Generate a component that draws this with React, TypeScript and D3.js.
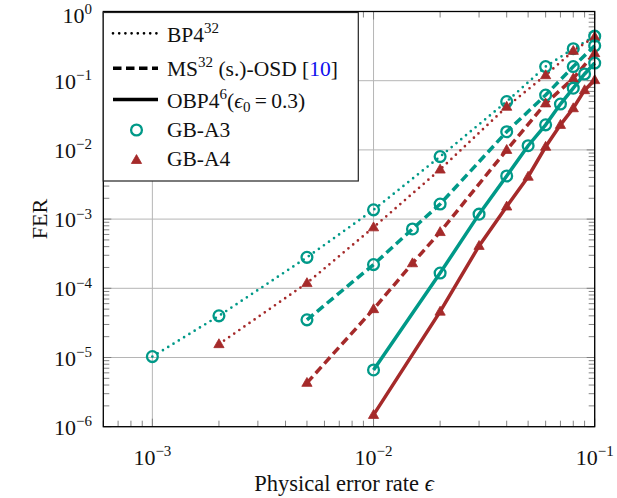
import React from "react";
import * as d3 from "d3";

const a3BpX = [0.001, 0.002, 0.005, 0.01, 0.02, 0.04, 0.06, 0.08, 0.1];
const a3BpY = [1.03e-5, 4.0e-5, 2.8e-4, 1.36e-3, 8.0e-3, 0.05, 0.16, 0.29, 0.44];
const a4BpX = [0.002, 0.005, 0.01, 0.02, 0.04, 0.06, 0.08, 0.1];
const a4BpY = [1.56e-5, 1.19e-4, 7.6e-4, 5.2e-3, 0.042, 0.12, 0.27, 0.43];
const a3MsX = [0.005, 0.01, 0.015, 0.02, 0.04, 0.06, 0.08, 0.1];
const a3MsY = [3.5e-5, 2.2e-4, 7.2e-4, 1.65e-3, 0.0183, 0.062, 0.16, 0.32];
const a4MsX = [0.005, 0.01, 0.015, 0.02, 0.04, 0.06, 0.08, 0.1];
const a4MsY = [4.3e-6, 5.0e-5, 2.3e-4, 6.5e-4, 0.01, 0.047, 0.108, 0.25];
const a3ObpX = [0.01, 0.02, 0.03, 0.04, 0.05, 0.06, 0.07, 0.08, 0.09, 0.1];
const a3ObpY = [6.6e-6, 1.66e-4, 1.18e-3, 4.2e-3, 0.0115, 0.023, 0.046, 0.078, 0.125, 0.18];
const a4ObpX = [0.01, 0.02, 0.03, 0.04, 0.05, 0.06, 0.07, 0.08, 0.09, 0.1];
const a4ObpY = [1.48e-6, 4.6e-5, 4.1e-4, 1.52e-3, 4.1e-3, 0.0111, 0.023, 0.04, 0.073, 0.102];

const xMajor = [1e-3, 1e-2, 1e-1];
const xMajorExp = ["−3", "−2", "−1"];
const yMajor = [1, 1e-1, 1e-2, 1e-3, 1e-4, 1e-5, 1e-6];
const yMajorExp = ["0", "−1", "−2", "−3", "−4", "−5", "−6"];

const TEAL = "#009988";
const RED = "#a52a2a";
const FONT = "'Liberation Serif', 'DejaVu Serif', serif";

const L = 103.3, R = 594.7, T = 11.5, B = 426.7;

export default function App() {
  const x = d3.scaleLog().domain([6e-4, 0.1]).range([L, R]);
  const y = d3.scaleLog().domain([1e-6, 1]).range([B, T]);

  const xMinor: number[] = [];
  for (const dec of [1e-4, 1e-3, 1e-2]) {
    for (let k = 2; k <= 9; k++) {
      const v = dec * k;
      if (v > 6e-4 && v < 0.1) xMinor.push(v);
    }
  }
  const yMinor: number[] = [];
  for (const dec of [1e-6, 1e-5, 1e-4, 1e-3, 1e-2, 1e-1]) {
    for (let k = 2; k <= 9; k++) yMinor.push(dec * k);
  }

  const line = d3
    .line<[number, number]>()
    .x((d) => x(d[0]))
    .y((d) => y(d[1]));

  const series = [
    { xs: a3BpX, ys: a3BpY, color: TEAL, style: "dot", marker: "circle" },
    { xs: a4BpX, ys: a4BpY, color: RED, style: "dot", marker: "tri" },
    { xs: a3MsX, ys: a3MsY, color: TEAL, style: "dash", marker: "circle" },
    { xs: a4MsX, ys: a4MsY, color: RED, style: "dash", marker: "tri" },
    { xs: a3ObpX, ys: a3ObpY, color: TEAL, style: "solid", marker: "circle" },
    { xs: a4ObpX, ys: a4ObpY, color: RED, style: "solid", marker: "tri" },
  ];

  const lineProps = (style: string) => {
    if (style === "dot") return { strokeWidth: 2.7, strokeDasharray: "0 6.2", strokeLinecap: "round" as const };
    if (style === "dash") return { strokeWidth: 3.5, strokeDasharray: "8.5 4.5", strokeLinecap: "butt" as const };
    return { strokeWidth: 3.5 };
  };

  const marker = (kind: string, cx: number, cy: number, color: string, key: string) => {
    if (kind === "circle")
      return <circle key={key} cx={cx} cy={cy} r={5.4} fill="none" stroke={color} strokeWidth={2.3} />;
    const s = 5.4;
    const pts = `${cx},${cy - s} ${cx - s * 0.95},${cy + s * 0.65} ${cx + s * 0.95},${cy + s * 0.65}`;
    return <polygon key={key} points={pts} fill={color} stroke={color} strokeWidth={0.8} strokeLinejoin="miter" />;
  };

  const lineRows = [33.3, 68.3, 99.5];
  const textBase = [41.5, 75.5, 108, 137, 166];
  const lx0 = 113, lx1 = 158, tx = 167;

  return (
    <svg width={617} height={498} style={{ position: "absolute", left: 0, top: 0, background: "#fff" }} fontFamily={FONT}>
      <rect x={0} y={0} width={617} height={498} fill="#fff" />
      {/* grid */}
      <g stroke="#b5b5b5" strokeWidth={1}>
        {xMajor.map((v) => (
          <line key={"gx" + v} x1={x(v)} x2={x(v)} y1={T} y2={B} />
        ))}
        {yMajor.map((v) => (
          <line key={"gy" + v} x1={L} x2={R} y1={y(v)} y2={y(v)} />
        ))}
      </g>
      {/* ticks */}
      <g stroke="#777" strokeWidth={0.9}>
        {xMinor.map((v) => (
          <g key={"xm" + v}>
            <line x1={x(v)} x2={x(v)} y1={B} y2={B - 6} />
            <line x1={x(v)} x2={x(v)} y1={T} y2={T + 6} />
          </g>
        ))}
        {yMinor.map((v) => (
          <g key={"ym" + v}>
            <line x1={L} x2={L + 6} y1={y(v)} y2={y(v)} />
            <line x1={R} x2={R - 6} y1={y(v)} y2={y(v)} />
          </g>
        ))}
        {xMajor.map((v) => (
          <g key={"xM" + v}>
            <line x1={x(v)} x2={x(v)} y1={B} y2={B - 8} />
            <line x1={x(v)} x2={x(v)} y1={T} y2={T + 8} />
          </g>
        ))}
        {yMajor.map((v) => (
          <g key={"yM" + v}>
            <line x1={L} x2={L + 8} y1={y(v)} y2={y(v)} />
            <line x1={R} x2={R - 8} y1={y(v)} y2={y(v)} />
          </g>
        ))}
      </g>
      {/* series */}
      <g fill="none">
        {series.map((s, i) => (
          <path
            key={"l" + i}
            d={line(s.xs.map((v, j) => [v, s.ys[j]] as [number, number])) || ""}
            stroke={s.color}
            {...lineProps(s.style)}
          />
        ))}
      </g>
      <g>
        {series.map((s, i) =>
          s.xs.map((v, j) => marker(s.marker, x(v), y(s.ys[j]), s.color, `m${i}-${j}`))
        )}
      </g>
      {/* axis box */}
      <rect x={L} y={T} width={R - L} height={B - T} fill="none" stroke="#000" strokeWidth={1.3} />
      {/* x tick labels */}
      {xMajor.map((v, i) => (
        <text key={"xl" + v} x={x(v)} y={465} textAnchor="middle" fontSize={22} fill="#111">
          <tspan>10</tspan>
          <tspan dy={-9} fontSize={15}>{xMajorExp[i]}</tspan>
        </text>
      ))}
      {/* y tick labels */}
      {yMajor.map((v, i) => (
        <text key={"yl" + v} x={92} y={Math.max(y(v) + 8, 22.5)} textAnchor="end" fontSize={22} fill="#111">
          <tspan>10</tspan>
          <tspan dy={-8.5} fontSize={15}>{yMajorExp[i]}</tspan>
        </text>
      ))}
      {/* axis labels */}
      <text x={344} y={491} textAnchor="middle" fontSize={22.5} fill="#111">
        Physical error rate <tspan fontStyle="italic">ϵ</tspan>
      </text>
      <text transform={`translate(47, ${(T + B) / 2}) rotate(-90)`} textAnchor="middle" fontSize={22} fill="#111">
        FER
      </text>
      {/* legend */}
      <rect x={L} y={T + 1} width={358.3 - L} height={181 - T - 1} fill="#fff" stroke="#222" strokeWidth={1.2} />
      <line x1={lx0} x2={lx1} y1={lineRows[0]} y2={lineRows[0]} stroke="#000" fill="none" {...lineProps("dot")} />
      <line x1={lx0} x2={lx1} y1={lineRows[1]} y2={lineRows[1]} stroke="#000" {...lineProps("dash")} />
      <line x1={lx0} x2={lx1} y1={lineRows[2]} y2={lineRows[2]} stroke="#000" {...lineProps("solid")} />
      {marker("circle", 136.5, 130, TEAL, "lg1")}
      {marker("tri", 136.5, 160, RED, "lg2")}
      <g fontSize={21.5} fill="#111">
        <text x={tx} y={textBase[0]}>
          BP4<tspan dy={-9} fontSize={15}>32</tspan>
        </text>
        <text x={tx} y={textBase[1]}>
          MS<tspan dy={-9} fontSize={15}>32</tspan>
          <tspan dy={9}> (s.)-OSD [</tspan>
          <tspan fill="#1010ee">10</tspan>
          <tspan>]</tspan>
        </text>
        <text x={tx} y={textBase[2]}>
          OBP4<tspan dy={-9} fontSize={15}>6</tspan>
          <tspan dy={9}>(</tspan>
          <tspan fontStyle="italic">ϵ</tspan>
          <tspan dy={4} fontSize={15}>0</tspan>
          <tspan dy={-4}>{"\u2009=\u20090.3)"}</tspan>
        </text>
        <text x={tx} y={textBase[3]}>GB-A3</text>
        <text x={tx} y={textBase[4]}>GB-A4</text>
      </g>
    </svg>
  );
}
